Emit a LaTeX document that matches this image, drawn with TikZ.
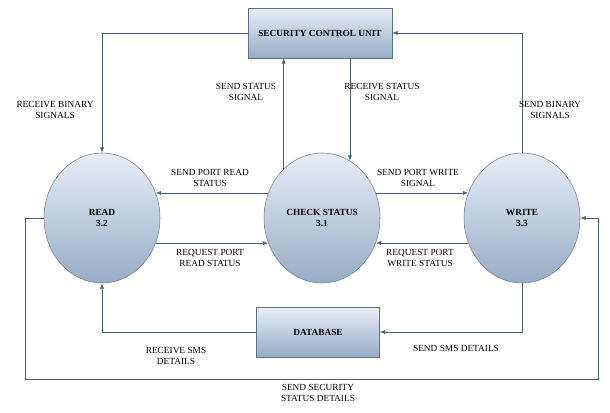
\documentclass[tikz,border=0pt]{standalone}
\usepackage{fontspec}
\setmainfont{Liberation Serif}
\usetikzlibrary{arrows.meta,shapes.geometric}
\definecolor{fillTop}{RGB}{232,238,246}
\definecolor{fillBot}{RGB}{150,172,198}
\definecolor{lineCol}{RGB}{70,95,125}
\begin{document}
\begin{tikzpicture}[x=0.75pt,y=-0.75pt]
\tikzstyle{process} = [ellipse, draw = lineCol!80, top color = fillTop, bottom color = fillBot, minimum width = 116*0.75pt, minimum height = 130*0.75pt, align = center, font = \fontsize{7}{8}\selectfont\bfseries]
\tikzstyle{store} = [rectangle, draw = lineCol!90, top color = fillTop, bottom color = fillBot, align = center, font = \fontsize{7}{8}\selectfont\bfseries]
\tikzstyle{flow} = [-{Latex[length=4pt,width=3pt]}, draw = lineCol]
\tikzstyle{lbl} = [align = center, font = \fontsize{7}{8}\selectfont]
\useasboundingbox (0,0) rectangle (610,412);
% -----------------------------------
% Processes and stores
\node[store, minimum width = 144*0.75pt, minimum height = 50*0.75pt] (scu) at (320, 33) {SECURITY CONTROL UNIT};
\node[process] (read) at (102, 218) {READ\\3.2};
\node[process] (check) at (322, 218) {CHECK STATUS\\3.1};
\node[process] (write) at (522, 218) {WRITE\\3.3};
\node[store, minimum width = 123*0.75pt, minimum height = 50*0.75pt] (db) at (318, 332) {DATABASE};
% -----------------------------------
% Flows with the control unit
\draw[flow] (scu.west) -| (read.north);
\draw[flow] (write.north) |- (scu.east);
\draw[flow] (check.128) -- (check.128 |- scu.south);
\draw[flow] (check.64 |- scu.south) -- (check.64);
% -----------------------------------
% Flows between processes
\draw[flow] (check.155) -- (read.25);
\draw[flow] (read.-25) -- (check.-155);
\draw[flow] (check.25) -- (write.155);
\draw[flow] (write.-155) -- (check.-25);
% -----------------------------------
% Flows with the database and loop
\draw[flow] (db.west) -| (read.south);
\draw[flow] (write.south) |- (db.east);
\coordinate (l1) at (25, 218);
\coordinate (l2) at (598, 379);
\draw[flow] (read.west) -- (l1) |- (l2) |- (write.east);
% -----------------------------------
% Labels
\node[lbl] (t1) at (55, 110) {RECEIVE BINARY\\SIGNALS};
\node[lbl] (t2) at (246, 92) {SEND STATUS\\SIGNAL};
\node[lbl] (t3) at (382, 92) {RECEIVE STATUS\\SIGNAL};
\node[lbl] (t4) at (550, 110) {SEND BINARY\\SIGNALS};
\node[lbl] (t5) at (210, 178) {SEND PORT READ\\STATUS};
\node[lbl] (t6) at (210, 258) {REQUEST PORT\\READ STATUS};
\node[lbl] (t7) at (418, 178) {SEND PORT WRITE\\SIGNAL};
\node[lbl] (t8) at (420, 258) {REQUEST PORT\\WRITE STATUS};
\node[lbl] (t9) at (176, 356) {RECEIVE SMS\\DETAILS};
\node[lbl] (t10) at (456, 348) {SEND SMS DETAILS};
\node[lbl] (t11) at (318, 393) {SEND SECURITY\\STATUS DETAILS};
\end{tikzpicture}
\end{document}
